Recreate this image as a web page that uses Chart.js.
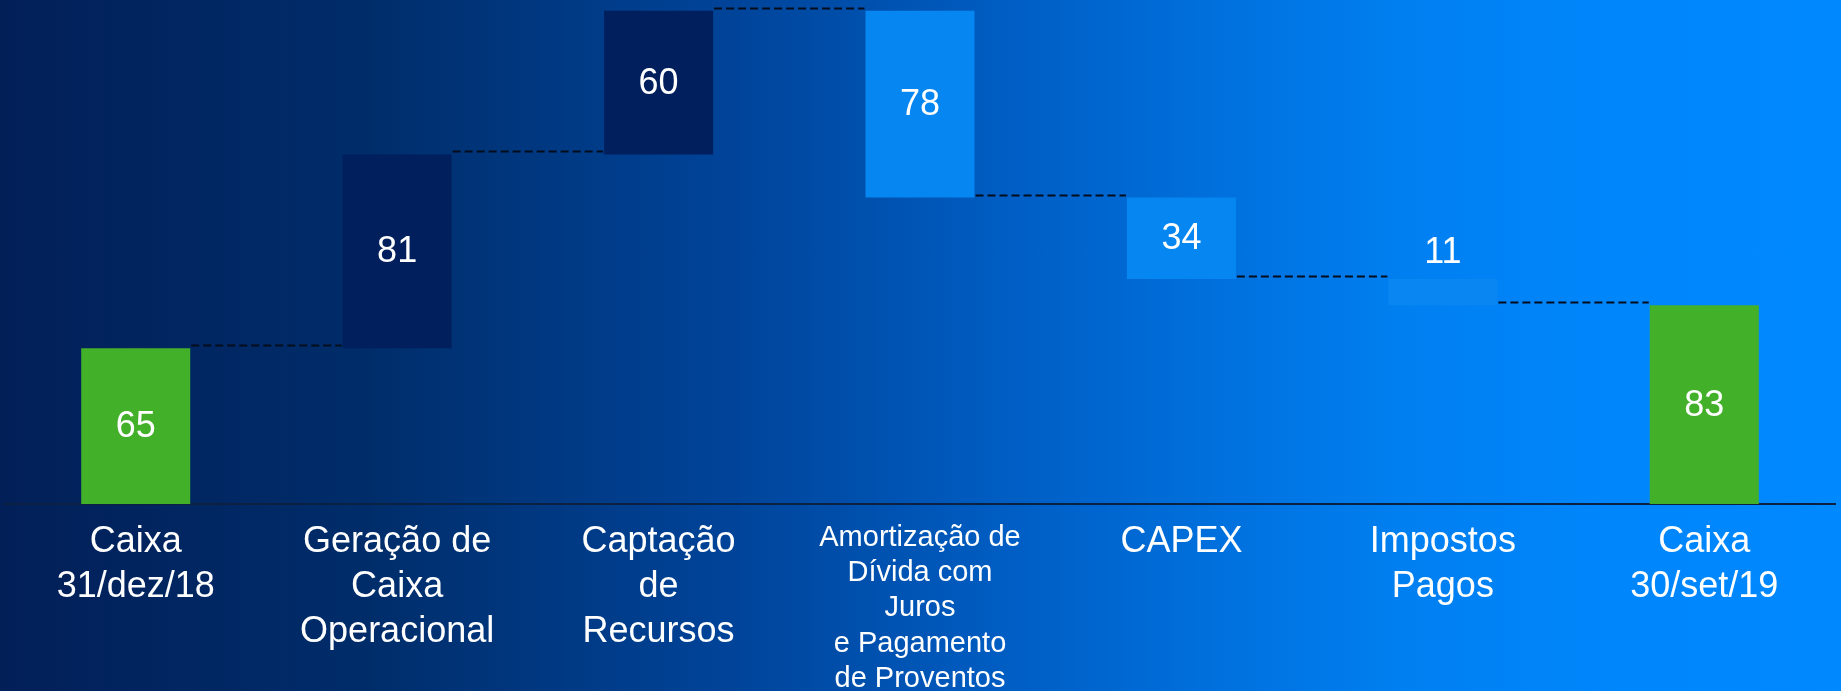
<!DOCTYPE html>
<html>
<head>
<meta charset="utf-8">
<script src="https://cdn.jsdelivr.net/npm/chart.js@4"></script>
<style>
  html, body { margin: 0; padding: 0; }
  body {
    width: 1841px; height: 691px; overflow: hidden;
    background: linear-gradient(to right, #021f58 0%, #002d6a 20%, #00449a 40%, #005ec4 55%, #0070dd 66%, #007ff0 76%, #0086fb 87%, #0088ff 100%);
  }
  #wrap { position: relative; width: 1841px; height: 691px; }
</style>
</head>
<body>
<div id="wrap"><canvas id="myChart"></canvas></div>
<script>
// Categorias (rótulos em várias linhas)
const categories = [
  ['Caixa', '31/dez/18'],
  ['Geração de', 'Caixa', 'Operacional'],
  ['Captação', 'de', 'Recursos'],
  ['Amortização de', 'Dívida com', 'Juros', 'e Pagamento', 'de Proventos'],
  'CAPEX',
  ['Impostos', 'Pagos'],
  ['Caixa', '30/set/19']
];
// Valores (positivo = entrada, negativo = saída)
const values = [65, 81, 60, -78, -34, -11, 83];
// Barras de saldo (partem do zero)
const isTotal = [true, false, false, false, false, false, true];
const barColors = ['#43b02a', '#001f5c', '#001f5c', '#0586f0', '#0586f0', '#0a86f3', '#43b02a'];

// Construir os intervalos flutuantes do gráfico em cascata
var running = 0;
var ranges = [];
var levels = [];
for (var i = 0; i < values.length; i++) {
  if (isTotal[i]) {
    ranges.push([0, values[i]]);
    running = values[i];
  } else {
    ranges.push([running, running + values[i]]);
    running += values[i];
  }
  levels.push(running);
}

const FONT = "'Liberation Sans', Arial, sans-serif";

// Linhas tracejadas entre as barras + valores
const cascadePlugin = {
  id: 'cascade',
  afterDatasetsDraw: function(chart) {
    var ctx = chart.ctx;
    var meta = chart.getDatasetMeta(0);
    var y = chart.scales.y;
    ctx.save();
    ctx.strokeStyle = '#050d1c';
    ctx.lineWidth = 1.8;
    ctx.setLineDash([8, 4]);
    for (var i = 0; i < meta.data.length - 1; i++) {
      var a = meta.data[i], b = meta.data[i + 1];
      var py = Math.round(y.getPixelForValue(levels[i])) - 2.5;
      ctx.beginPath();
      ctx.moveTo(a.x + a.width / 2 + 1, py);
      ctx.lineTo(b.x - b.width / 2 - 1, py);
      ctx.stroke();
    }
    ctx.setLineDash([]);
    ctx.fillStyle = '#ffffff';
    ctx.font = '36px ' + FONT;
    ctx.textAlign = 'center';
    ctx.textBaseline = 'middle';
    for (var j = 0; j < meta.data.length; j++) {
      var bar = meta.data[j];
      var top = Math.min(bar.y, bar.base);
      var h = Math.abs(bar.base - bar.y);
      var ty = h < 40 ? top - 27 : top + h / 2;
      ctx.fillText(String(Math.abs(values[j])), bar.x, ty + 1);
    }
    ctx.restore();
  }
};

var canvas = document.getElementById('myChart');
var myChart = new Chart(canvas.getContext('2d'), {
  type: 'bar',
  data: {
    labels: categories,
    datasets: [{
      data: ranges,
      backgroundColor: barColors,
      borderWidth: 0,
      barPercentage: 0.417,
      categoryPercentage: 1
    }]
  },
  options: {
    responsive: true,
    maintainAspectRatio: false,
    animation: false,
    layout: { padding: { left: 5, right: 6, top: 0, bottom: 0 } },
    plugins: { legend: { display: false }, tooltip: { enabled: false } },
    scales: {
      x: {
        grid: { display: false, drawTicks: false },
        border: { display: true, color: '#0c2040', width: 2 },
        ticks: {
          color: '#ffffff',
          padding: 16,
          maxRotation: 0,
          autoSkip: false,
          font: function(c) {
            return c.index === 3
              ? { family: FONT, size: 29, lineHeight: 1.22 }
              : { family: FONT, size: 36, lineHeight: 1.25 };
          }
        },
        afterFit: function(axis) { axis.height = 187; }
      },
      y: {
        display: false,
        min: 0,
        max: 210.5
      }
    }
  },
  plugins: [cascadePlugin]
});
</script>
</body>
</html>
